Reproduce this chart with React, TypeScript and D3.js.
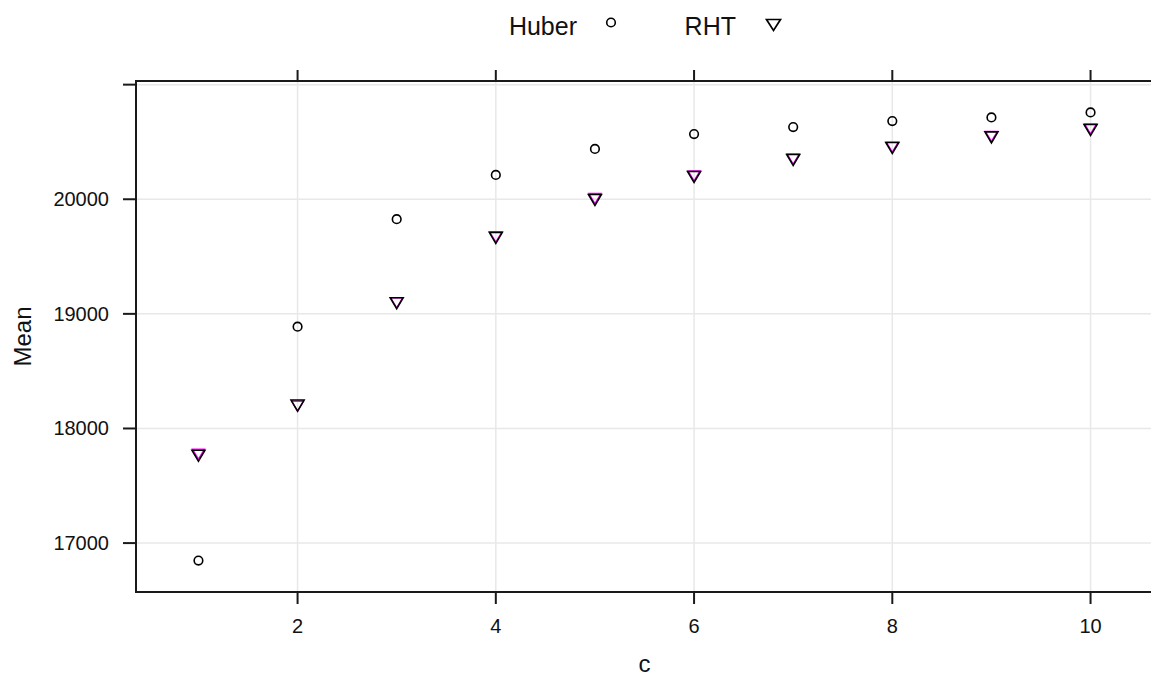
import React from 'react';
import * as d3 from 'd3';

const cValues = [1, 2, 3, 4, 5, 6, 7, 8, 9, 10];
const huberMeans = [16847, 18888, 19826, 20212, 20439, 20569, 20630, 20682, 20714, 20758];
const rhtMeans = [17762, 18200, 19093, 19663, 19994, 20194, 20343, 20447, 20540, 20604];
// magenta points hidden under the RHT triangles
const overlayMeans = [17776, 18194, 19097, 19670, 20006, 20204, 20351, 20455, 20549, 20614];

const xTicks = [2, 4, 6, 8, 10];
const yTicks = [17000, 18000, 19000, 20000, 21000];
const yTickLabels = ['17000', '18000', '19000', '20000', ''];
const legendLabels = ['Huber', 'RHT'];

const W = 1151;
const H = 677;
const panel = { left: 136, top: 81, right: 1153, bottom: 592 };
const font = '"Liberation Sans", Arial, sans-serif';

// lattice style padding of 7% on both sides
function padded(values: number[]): [number, number] {
  const lo = d3.min(values) as number;
  const hi = d3.max(values) as number;
  const pad = (hi - lo) * 0.07;
  return [lo - pad, hi + pad];
}

const x = d3.scaleLinear().domain(padded(cValues)).range([panel.left, panel.right]);
const y = d3
  .scaleLinear()
  .domain(padded([...huberMeans, ...rhtMeans]))
  .range([panel.bottom, panel.top]);

function triangle(cx: number, cy: number, hw: number, h: number) {
  const path = d3.path();
  path.moveTo(cx - hw, cy - h / 2);
  path.lineTo(cx + hw, cy - h / 2);
  path.lineTo(cx, cy + h / 2);
  path.closePath();
  return path.toString();
}

export default function App() {
  return (
    <svg
      width={W}
      height={H}
      style={{ position: 'absolute', left: 0, top: 0, background: '#fff' }}
      fontFamily={font}
    >
      <defs>
        <clipPath id="panelClip">
          <rect x={panel.left} y={panel.top} width={panel.right - panel.left} height={panel.bottom - panel.top} />
        </clipPath>
      </defs>

      {/* grid */}
      <g stroke="#e8e8e8" strokeWidth={1.5}>
        {xTicks.map((t) => (
          <line key={'gx' + t} x1={x(t)} x2={x(t)} y1={panel.top} y2={panel.bottom} />
        ))}
        {yTicks.map((t) => (
          <line key={'gy' + t} x1={panel.left} x2={panel.right} y1={y(t)} y2={y(t)} />
        ))}
      </g>

      {/* points */}
      <g clipPath="url(#panelClip)" fill="none" strokeWidth={1.6}>
        {cValues.map((c, i) => (
          <path key={'o' + c} d={triangle(x(c), y(overlayMeans[i]), 6, 10)} stroke="#ff00ff" strokeWidth={1.4} />
        ))}
        {cValues.map((c, i) => (
          <path key={'r' + c} d={triangle(x(c), y(rhtMeans[i]), 6.5, 11)} stroke="#000" />
        ))}
        {cValues.map((c, i) => (
          <circle key={'h' + c} cx={x(c)} cy={y(huberMeans[i])} r={4.3} stroke="#000" />
        ))}
      </g>

      {/* panel border */}
      <rect
        x={panel.left}
        y={panel.top}
        width={panel.right - panel.left}
        height={panel.bottom - panel.top}
        fill="none"
        stroke="#1a1a1a"
        strokeWidth={2}
      />

      {/* ticks */}
      <g stroke="#1a1a1a" strokeWidth={2}>
        {xTicks.map((t) => (
          <g key={'tx' + t}>
            <line x1={x(t)} x2={x(t)} y1={panel.bottom} y2={panel.bottom + 12} />
            <line x1={x(t)} x2={x(t)} y1={panel.top} y2={panel.top - 11} />
          </g>
        ))}
        {yTicks.map((t) => (
          <line key={'ty' + t} x1={panel.left - 13} x2={panel.left} y1={y(t)} y2={y(t)} />
        ))}
      </g>

      {/* tick labels */}
      <g fontSize={20} fill="#111">
        {xTicks.map((t) => (
          <text key={'lx' + t} x={x(t)} y={626} textAnchor="middle" dominantBaseline="central">
            {t}
          </text>
        ))}
        {yTicks.map((t, i) => (
          <text key={'ly' + t} x={panel.left - 27} y={y(t)} textAnchor="end" dominantBaseline="central">
            {yTickLabels[i]}
          </text>
        ))}
      </g>

      {/* axis titles */}
      <text x={(panel.left + panel.right) / 2} y={663} fontSize={24} textAnchor="middle" dominantBaseline="central" fill="#111">
        c
      </text>
      <text
        transform={`translate(22,${(panel.top + panel.bottom) / 2}) rotate(-90)`}
        fontSize={24}
        textAnchor="middle"
        dominantBaseline="central"
        fill="#111"
      >
        Mean
      </text>

      {/* legend */}
      <g fontSize={25} fill="#111">
        <text x={577} y={26} textAnchor="end" dominantBaseline="central">
          {legendLabels[0]}
        </text>
        <circle cx={611} cy={22.5} r={4.3} fill="none" stroke="#000" strokeWidth={1.6} />
        <text x={736} y={26} textAnchor="end" dominantBaseline="central">
          {legendLabels[1]}
        </text>
        <path d={triangle(773.5, 25, 7, 11)} fill="none" stroke="#000" strokeWidth={1.7} />
      </g>
    </svg>
  );
}
